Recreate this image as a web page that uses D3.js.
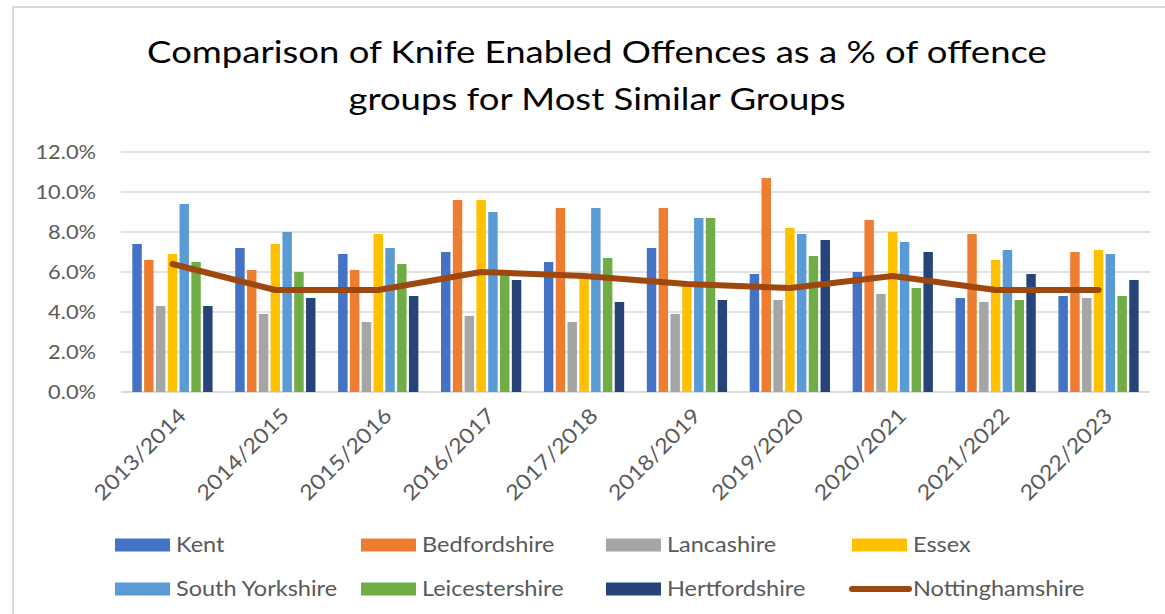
<!DOCTYPE html>
<html>
<head>
<meta charset="utf-8">
<script src="https://cdn.jsdelivr.net/npm/d3@7"></script>
<style>
  html, body { margin: 0; padding: 0; background: #fff; }
  svg { display: block; font-family: Lato, "Open Sans", sans-serif; }
</style>
</head>
<body>
<svg id="chart" width="1165" height="614"></svg>
<script>
// Financial years on the x axis
const categories = ["2013/2014", "2014/2015", "2015/2016", "2016/2017", "2017/2018",
                    "2018/2019", "2019/2020", "2020/2021", "2021/2022", "2022/2023"];

// Knife enabled offences as a % of offence groups, per force
const kent          = [7.4, 7.2, 6.9, 7.0, 6.5, 7.2, 5.9, 6.0, 4.7, 4.8];
const bedfordshire  = [6.6, 6.1, 6.1, 9.6, 9.2, 9.2, 10.7, 8.6, 7.9, 7.0];
const lancashire    = [4.3, 3.9, 3.5, 3.8, 3.5, 3.9, 4.6, 4.9, 4.5, 4.7];
const essex         = [6.9, 7.4, 7.9, 9.6, 5.7, 5.3, 8.2, 8.0, 6.6, 7.1];
const southYorks    = [9.4, 8.0, 7.2, 9.0, 9.2, 8.7, 7.9, 7.5, 7.1, 6.9];
const leicestershire= [6.5, 6.0, 6.4, 5.9, 6.7, 8.7, 6.8, 5.2, 4.6, 4.8];
const hertfordshire = [4.3, 4.7, 4.8, 5.6, 4.5, 4.6, 7.6, 7.0, 5.9, 5.6];
const nottinghamshire = [6.4, 5.1, 5.1, 6.0, 5.8, 5.4, 5.2, 5.8, 5.1, 5.1];

const barSeriesNames = ["Kent", "Bedfordshire", "Lancashire", "Essex",
                        "South Yorkshire", "Leicestershire", "Hertfordshire"];
const lineSeriesName = "Nottinghamshire";
const yTicks = [0, 2, 4, 6, 8, 10, 12];

const barSeries = [kent, bedfordshire, lancashire, essex, southYorks, leicestershire, hertfordshire]
  .map((values, i) => ({ name: barSeriesNames[i], values }));

const colors = {
  "Kent": "#4472C4",
  "Bedfordshire": "#ED7D31",
  "Lancashire": "#A5A5A5",
  "Essex": "#FFC000",
  "South Yorkshire": "#5B9BD5",
  "Leicestershire": "#70AD47",
  "Hertfordshire": "#264478",
  "Nottinghamshire": "#9E480E"
};

const FONT = "Lato, 'Open Sans', sans-serif";
const TEXT_STRETCH = 1.12;   // slightly wide lettering

const svg = d3.select("#chart");
const W = 1165, H = 614;

svg.append("rect").attr("width", W).attr("height", H).attr("fill", "#fff");

// chart frame
svg.append("rect")
  .attr("x", 13).attr("y", 7)
  .attr("width", W + 20).attr("height", H + 20)
  .attr("fill", "#fff")
  .attr("stroke", "#d9d9d9").attr("stroke-width", 2);

// title, two centred lines stretched to a common width
const titleLines = ["Comparison of Knife Enabled Offences as a % of offence",
                    "groups for Most Similar Groups"];
const titleBaselines = [63, 110];
const titleCenter = 597;
const titleTexts = titleLines.map((t, i) => {
  const g = svg.append("g").attr("transform", `translate(${titleCenter},${titleBaselines[i]})`);
  const txt = g.append("text")
    .attr("text-anchor", "middle")
    .attr("fill", "#000")
    .style("font-family", FONT)
    .style("font-size", "30px")
    .text(t);
  return { g, txt };
});
const firstWidth = titleTexts[0].txt.node().getComputedTextLength();
const titleScale = 900 / firstWidth;
titleTexts.forEach(({ txt }) => txt.attr("transform", `scale(${titleScale},1)`));

// scales
const plot = { left: 121, right: 1150, top: 152, bottom: 392 };

const x0 = d3.scaleBand()
  .domain(categories)
  .range([plot.left, plot.right])
  .padding(0);

const x1 = d3.scaleBand()
  .domain(barSeriesNames)
  .range([0, x0.bandwidth()])
  .paddingInner(0.2)
  .paddingOuter(0.96);

const y = d3.scaleLinear()
  .domain([0, 12])
  .range([plot.bottom, plot.top]);

// gridlines
svg.append("g")
  .selectAll("line")
  .data(yTicks)
  .join("line")
  .attr("x1", plot.left).attr("x2", plot.right)
  .attr("y1", d => y(d)).attr("y2", d => y(d))
  .attr("stroke", "#d9d9d9")
  .attr("stroke-width", d => d === 0 ? 2 : 1.5);

// y axis labels
const yAxis = d3.axisLeft(y)
  .tickValues(yTicks)
  .tickFormat(d => d3.format(".1f")(d) + "%")
  .tickSize(0)
  .tickPadding(0);

const yG = svg.append("g")
  .attr("transform", `translate(96,0)`)
  .call(yAxis);
yG.select(".domain").remove();
yG.selectAll("text")
  .attr("x", 0)
  .attr("fill", "#595959")
  .style("font-family", FONT)
  .style("font-size", "20px")
  .attr("transform", `scale(${1.09},1)`);

// bars
const groups = svg.append("g")
  .selectAll("g")
  .data(categories)
  .join("g")
  .attr("transform", d => `translate(${x0(d)},0)`);

groups.selectAll("rect")
  .data((d, i) => barSeries.map(s => ({ name: s.name, value: s.values[i] })))
  .join("rect")
  .attr("x", d => x1(d.name))
  .attr("width", x1.bandwidth())
  .attr("y", d => y(d.value))
  .attr("height", d => y(0) - y(d.value))
  .attr("fill", d => colors[d.name]);

// x axis labels
const xAxis = d3.axisBottom(x0).tickSize(0).tickPadding(0);
const xG = svg.append("g")
  .attr("transform", `translate(0,${plot.bottom})`)
  .call(xAxis);
xG.select(".domain").remove();
xG.selectAll("text")
  .attr("fill", "#595959")
  .style("font-family", FONT)
  .style("font-size", "21px")
  .attr("text-anchor", "end")
  .attr("dy", 0)
  .attr("y", 0)
  .attr("transform", `translate(15,25) rotate(-45) scale(${TEXT_STRETCH},1)`);

// Nottinghamshire line
const line = d3.line()
  .x((d, i) => x0(categories[i]) + x0.bandwidth() / 2)
  .y(d => y(d));

svg.append("path")
  .datum(nottinghamshire)
  .attr("d", line)
  .attr("fill", "none")
  .attr("stroke", colors[lineSeriesName])
  .attr("stroke-width", 6)
  .attr("stroke-linecap", "round")
  .attr("stroke-linejoin", "round");

// legend
const legendItems = [...barSeriesNames, lineSeriesName];
const legendCols = [115, 361, 606, 852];
const legendRows = [545, 589];

const legend = svg.append("g")
  .selectAll("g")
  .data(legendItems)
  .join("g")
  .attr("transform", (d, i) => `translate(${legendCols[i % 4]},${legendRows[Math.floor(i / 4)]})`);

legend.each(function (d) {
  const g = d3.select(this);
  if (d === lineSeriesName) {
    g.append("line")
      .attr("x1", 0).attr("x2", 57).attr("y1", 0).attr("y2", 0)
      .attr("stroke", colors[d]).attr("stroke-width", 6)
      .attr("stroke-linecap", "round");
  } else {
    g.append("rect")
      .attr("x", 0).attr("y", -6.5)
      .attr("width", 55).attr("height", 13)
      .attr("fill", colors[d]);
  }
  g.append("text")
    .attr("x", 0).attr("y", 0)
    .attr("dy", "0.35em")
    .attr("fill", "#595959")
    .style("font-family", FONT)
    .style("font-size", "21px")
    .attr("transform", `translate(61,0) scale(${TEXT_STRETCH},1)`)
    .text(d);
});
</script>
</body>
</html>
